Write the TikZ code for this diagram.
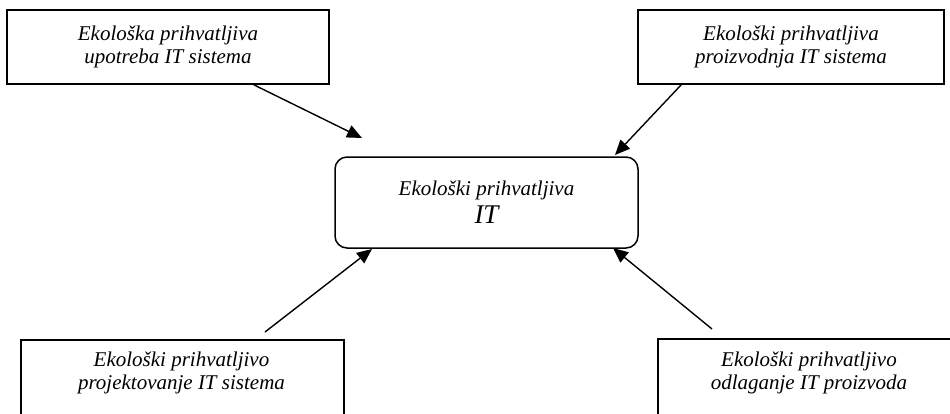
\documentclass[tikz,border=0pt]{standalone}
\usepackage{fontspec}
\setmainfont{Liberation Serif}
\usetikzlibrary{arrows.meta}
\tikzset{
  box/.style={draw, line width=1.6pt, rectangle, inner sep=0pt},
  cbox/.style={draw, line width=1.5pt, rectangle, rounded corners=12pt, inner sep=0pt},
  lbl/.style={align=center, font=\fontsize{21pt}{23pt}\selectfont\itshape, inner sep=0pt},
  arr/.style={line width=1.4pt, -{Triangle[length=15pt,width=13pt]}}
}
\begin{document}
\begin{tikzpicture}[x=1pt,y=-1pt]
\useasboundingbox (0,0) rectangle (950,413);
\clip (0,0) rectangle (950,413);
% top boxes
\node[box, minimum width=322pt, minimum height=74pt, lbl] (tl) at (168,47) {Ekološka prihvatljiva\\upotreba IT sistema};
\node[box, minimum width=306pt, minimum height=74pt, lbl] (tr) at (791,47) {Ekološki prihvatljiva\\proizvodnja IT sistema};
% center box
\node[cbox, minimum width=303pt, minimum height=91pt, align=center, inner sep=0pt] (c) at (486.5,202.5)
  {\fontsize{21pt}{23pt}\selectfont\itshape Ekološki prihvatljiva\\[5pt]\fontsize{27pt}{28pt}\selectfont\itshape IT};
% bottom boxes (cut by the page edge)
\node[box, minimum width=323pt, minimum height=90pt, anchor=north west] (bl) at (20,339) {};
\node[lbl] (blt) at (181.5,373) {Ekološki prihvatljivo\\projektovanje IT sistema};
\node[box, minimum width=305pt, minimum height=90pt, anchor=north west] (br) at (657,338) {};
\node[lbl] (brt) at (809,373) {Ekološki prihvatljivo\\odlaganje IT proizvoda};
% arrow tips and free ends
\coordinate (t1) at (362,138);
\coordinate (t2) at (615,155);
\coordinate (t3) at (372,249);
\coordinate (t4) at (613,248);
\coordinate (s3) at (265,332);
\coordinate (s4) at (712,329);
\draw[arr] ([xshift=-76pt]tl.south east) -- (t1);
\draw[arr] ([xshift=44pt]tr.south west) -- (t2);
\draw[arr] (s3) -- (t3);
\draw[arr] (s4) -- (t4);
\end{tikzpicture}
\end{document}
